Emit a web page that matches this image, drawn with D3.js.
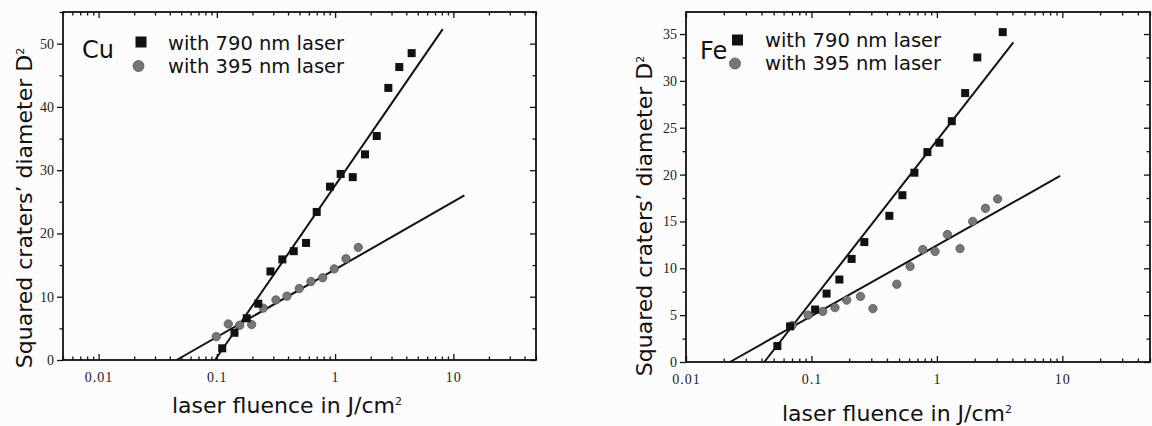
<!DOCTYPE html>
<html>
<head>
<meta charset="utf-8">
<script src="https://cdn.jsdelivr.net/npm/d3@7"></script>
<style>
  html, body { margin: 0; padding: 0; background: #fcfcfc; }
  svg { display: block; }
</style>
</head>
<body>
<svg id="chart"></svg>
<script>
// Squared crater diameter vs laser fluence — Cu (left) and Fe (right)

// ---- data ----
const CU_FLUENCE_790 = [0.111, 0.141, 0.179, 0.224, 0.284, 0.358, 0.447, 0.568, 0.699, 0.906, 1.115, 1.41, 1.79, 2.25, 2.82, 3.49, 4.44];
const CU_D2_790      = [1.85, 4.3, 6.6, 8.9, 14.0, 15.9, 17.2, 18.5, 23.4, 27.4, 29.4, 28.9, 32.5, 35.4, 43.0, 46.3, 48.5];
const CU_FLUENCE_395 = [0.099, 0.125, 0.156, 0.197, 0.247, 0.316, 0.392, 0.498, 0.625, 0.785, 0.984, 1.236, 1.571];
const CU_D2_395      = [3.7, 5.7, 5.5, 5.6, 8.2, 9.5, 10.1, 11.3, 12.4, 13.0, 14.4, 16.0, 17.8];
const CU_FIT_790_X = [0.0965, 8.13], CU_FIT_790_Y = [0, 52.3];
const CU_FIT_395_X = [0.0457, 12.4], CU_FIT_395_Y = [0, 26.0];

const FE_FLUENCE_790 = [0.0535, 0.0675, 0.107, 0.132, 0.167, 0.209, 0.264, 0.418, 0.531, 0.662, 0.84, 1.047, 1.315, 1.68, 2.10, 3.35];
const FE_D2_790      = [1.7, 3.8, 5.6, 7.3, 8.8, 11.0, 12.8, 15.6, 17.8, 20.2, 22.4, 23.4, 25.7, 28.7, 32.5, 35.2];
const FE_FLUENCE_395 = [0.070, 0.094, 0.123, 0.154, 0.191, 0.246, 0.309, 0.479, 0.611, 0.772, 0.967, 1.213, 1.53, 1.93, 2.44, 3.05];
const FE_D2_395      = [3.9, 5.0, 5.4, 5.8, 6.6, 7.0, 5.7, 8.3, 10.2, 12.0, 11.8, 13.6, 12.1, 15.0, 16.4, 17.4];
const FE_FIT_790_X = [0.0421, 4.07], FE_FIT_790_Y = [0, 34.1];
const FE_FIT_395_X = [0.0224, 9.6],  FE_FIT_395_Y = [0, 19.85];

const X_TICKS = [0.01, 0.1, 1, 10];
const X_TICK_LABELS = ["0.01", "0.1", "1", "10"];
const CU_Y_TICKS = [0, 10, 20, 30, 40, 50];
const CU_Y_MINOR = [5, 15, 25, 35, 45, 55];
const FE_Y_TICKS = [0, 5, 10, 15, 20, 25, 30, 35];
const FE_Y_MINOR = [2.5, 7.5, 12.5, 17.5, 22.5, 27.5, 32.5];

const LEGEND_LABELS = ["with 790 nm laser", "with 395 nm laser"];

(function () {
  const W = 1152, H = 426;
  const SANS = "'DejaVu Sans', sans-serif";
  const SERIF = "'Liberation Serif', 'Times New Roman', serif";
  const SQUARE = "#111";
  const CIRCLE = "#777";

  const svg = d3.select("#chart").attr("width", W).attr("height", H);
  svg.append("rect").attr("width", W).attr("height", H).attr("fill", "#fcfcfc");

  const pair = (xs, ys) => xs.map((v, i) => [v, ys[i]]);

  const panels = [
    {
      box: { x0: 63, x1: 536, y0: 12, y1: 360 },
      xDomain: [0.005, 50], yDomain: [0, 55],
      yTicks: CU_Y_TICKS, yMinor: CU_Y_MINOR,
      s790: pair(CU_FLUENCE_790, CU_D2_790), s395: pair(CU_FLUENCE_395, CU_D2_395),
      f790: pair(CU_FIT_790_X, CU_FIT_790_Y), f395: pair(CU_FIT_395_X, CU_FIT_395_Y),
      name: "Cu", nameAt: [82, 58], sqAt: [141, 42], ciAt: [138.5, 66], textX: 168, textY: [50, 73],
      yTitle: [32, 208], xTitle: [287, 413]
    },
    {
      box: { x0: 686, x1: 1150, y0: 12, y1: 362 },
      xDomain: [0.01, 50], yDomain: [0, 37.35],
      yTicks: FE_Y_TICKS, yMinor: FE_Y_MINOR,
      s790: pair(FE_FLUENCE_790, FE_D2_790), s395: pair(FE_FLUENCE_395, FE_D2_395),
      f790: pair(FE_FIT_790_X, FE_FIT_790_Y), f395: pair(FE_FIT_395_X, FE_FIT_395_Y),
      name: "Fe", nameAt: [700, 59], sqAt: [737.5, 40], ciAt: [735, 63.5], textX: 765, textY: [47, 70],
      yTitle: [652, 216], xTitle: [897, 421]
    }
  ];

  panels.forEach(drawPanel);

  function drawPanel(p) {
    const b = p.box;
    const x = d3.scaleLog().domain(p.xDomain).range([b.x0, b.x1]);
    const y = d3.scaleLinear().domain(p.yDomain).range([b.y1, b.y0]);
    const xMinor = x.ticks().filter(v => !X_TICKS.includes(v));

    const styleAxis = g => {
      g.select(".domain").remove();
      g.selectAll("line").attr("stroke", "#111").attr("stroke-width", 1.3);
    };

    // bottom axis: inward ticks, serif labels
    svg.append("g").attr("transform", `translate(0,${b.y1})`)
      .call(d3.axisBottom(x).tickValues(X_TICKS).tickSize(-6).tickPadding(12)
        .tickFormat((d, i) => X_TICK_LABELS[i]))
      .call(styleAxis)
      .call(g => g.selectAll("text").attr("font-family", SERIF).attr("font-size", 14)
        .attr("letter-spacing", 1).attr("fill", "#222"));
    svg.append("g").attr("transform", `translate(0,${b.y1})`)
      .call(d3.axisBottom(x).tickValues(xMinor).tickSize(-3.5).tickFormat(""))
      .call(styleAxis);

    // top axis: inward ticks only
    svg.append("g").attr("transform", `translate(0,${b.y0})`)
      .call(d3.axisTop(x).tickValues(X_TICKS).tickSize(-6).tickFormat(""))
      .call(styleAxis);
    svg.append("g").attr("transform", `translate(0,${b.y0})`)
      .call(d3.axisTop(x).tickValues(xMinor).tickSize(-3.5).tickFormat(""))
      .call(styleAxis);

    // left axis: outward ticks with labels
    svg.append("g").attr("transform", `translate(${b.x0},0)`)
      .call(d3.axisLeft(y).tickValues(p.yTicks).tickSize(6).tickPadding(3))
      .call(styleAxis)
      .call(g => g.selectAll("text").attr("font-family", SERIF).attr("font-size", 14)
        .attr("fill", "#222"));
    svg.append("g").attr("transform", `translate(${b.x0},0)`)
      .call(d3.axisLeft(y).tickValues(p.yMinor).tickSize(3.5).tickFormat(""))
      .call(styleAxis);

    // right axis: inward ticks only
    svg.append("g").attr("transform", `translate(${b.x1},0)`)
      .call(d3.axisRight(y).tickValues(p.yTicks).tickSize(-6).tickFormat(""))
      .call(styleAxis);
    svg.append("g").attr("transform", `translate(${b.x1},0)`)
      .call(d3.axisRight(y).tickValues(p.yMinor).tickSize(-3.5).tickFormat(""))
      .call(styleAxis);

    // frame
    svg.append("rect")
      .attr("x", b.x0).attr("y", b.y0)
      .attr("width", b.x1 - b.x0).attr("height", b.y1 - b.y0)
      .attr("fill", "none").attr("stroke", "#111").attr("stroke-width", 1.8);

    // fit lines
    const line = d3.line().x(d => x(d[0])).y(d => y(d[1]));
    [p.f790, p.f395].forEach(f => {
      svg.append("path").attr("d", line(f))
        .attr("fill", "none").attr("stroke", "#111").attr("stroke-width", 2);
    });

    // 395 nm points (grey circles)
    svg.append("g").selectAll("circle").data(p.s395).enter()
      .append("circle")
      .attr("cx", d => x(d[0])).attr("cy", d => y(d[1])).attr("r", 4.2)
      .attr("fill", CIRCLE).attr("stroke", "#4a4a4a").attr("stroke-width", 0.7);

    // 790 nm points (black squares)
    const sq = 8;
    svg.append("g").selectAll("rect").data(p.s790).enter()
      .append("rect")
      .attr("x", d => x(d[0]) - sq / 2).attr("y", d => y(d[1]) - sq / 2)
      .attr("width", sq).attr("height", sq)
      .attr("fill", SQUARE);

    // legend
    svg.append("text").attr("x", p.nameAt[0]).attr("y", p.nameAt[1])
      .attr("font-family", SANS).attr("font-size", 24).attr("fill", "#111")
      .text(p.name);
    svg.append("rect")
      .attr("x", p.sqAt[0] - 5.5).attr("y", p.sqAt[1] - 5.5)
      .attr("width", 11).attr("height", 11).attr("fill", SQUARE);
    svg.append("circle").attr("cx", p.ciAt[0]).attr("cy", p.ciAt[1]).attr("r", 5.5)
      .attr("fill", CIRCLE).attr("stroke", "#4a4a4a").attr("stroke-width", 0.7);
    LEGEND_LABELS.forEach((t, i) => {
      svg.append("text").attr("x", p.textX).attr("y", p.textY[i])
        .attr("font-family", SANS).attr("font-size", 19.5).attr("fill", "#111")
        .text(t);
    });

    // axis titles
    const yt = svg.append("text")
      .attr("transform", `translate(${p.yTitle[0]},${p.yTitle[1]}) rotate(-90)`)
      .attr("text-anchor", "middle")
      .attr("font-family", SANS).attr("font-size", 22).attr("fill", "#111");
    yt.append("tspan").text("Squared craters\u2019 diameter D");
    yt.append("tspan").attr("dy", "-0.7em").attr("font-size", 11).text("2");

    const xt = svg.append("text")
      .attr("x", p.xTitle[0]).attr("y", p.xTitle[1])
      .attr("text-anchor", "middle")
      .attr("font-family", SANS).attr("font-size", 22).attr("fill", "#111");
    xt.append("tspan").text("laser fluence in J/cm");
    xt.append("tspan").attr("dy", "-0.7em").attr("font-size", 11).text("2");
  }
})();
</script>
</body>
</html>
